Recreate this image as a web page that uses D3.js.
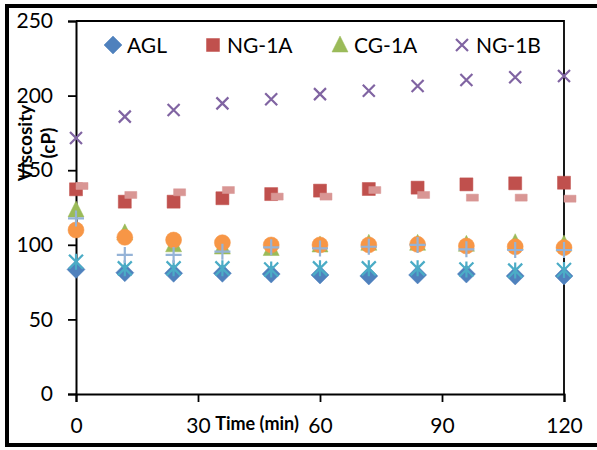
<!DOCTYPE html>
<html>
<head>
<meta charset="utf-8">
<script src="https://cdn.jsdelivr.net/npm/d3@7"></script>
<style>
  body { margin: 0; background: #fff; }
  svg { display: block; font-family: Lato, "Open Sans", sans-serif; }
</style>
</head>
<body>
<svg id="chart" width="597" height="450"></svg>
<script>
// sampling times (min)
const times = [0, 12, 24, 36, 48, 60, 72, 84, 96, 108, 120];

// viscosity (cP)
const agl  = [83.5, 81.3, 80.9, 80.9, 80.4, 79.8, 79.1, 79.8, 80.4, 79.1, 79.1];
const ng1a = [137.2, 128.9, 128.9, 131.2, 134, 136.3, 137.4, 138.3, 140.5, 141.2, 141.6];
const cg1a = [123.3, 108, 100, 98.5, 97.5, 99.9, 101, 101, 100.3, 101.4, 100.5];
const ng1b = [171.6, 185.9, 190.3, 194.8, 197.5, 201, 203.3, 206.4, 210.5, 212.3, 213.1];
// extra series without legend entry
const seriesStar   = [88.7, 84.2, 84.2, 84.2, 83.5, 84.2, 84.2, 84.2, 83.5, 82.7, 83.1];
const seriesCircle = [109.9, 105, 103.2, 101.4, 99.9, 99.9, 99.9, 100.3, 99.2, 98.7, 98.1];
const seriesPlus   = [117.7, 93.2, 93.2, 95.4, 98.3, 97.6, 98.7, 99.9, 97, 96.5, 96.5];
const seriesDash   = [139.4, 133.4, 135.2, 136.7, 132.3, 132.3, 136.7, 133.4, 131.6, 131.6, 130.9];

const xTicks = [0, 30, 60, 90, 120];
const yTicks = [0, 50, 100, 150, 200, 250];
const legendNames = ['AGL', 'NG-1A', 'CG-1A', 'NG-1B'];

// marker shapes (path centred on 0,0)
const shapes = {
  diamond: 'M0,-9L9,0L0,9L-9,0Z',
  square: 'M-6.5,-6.5H6.5V6.5H-6.5Z',
  triangle: 'M0,-9L8,7H-8Z',
  cross: 'M-6,-6L6,6M6,-6L-6,6',
  star: 'M-7,-7L7,7M7,-7L-7,7M0,-8V8',
  circle: 'M8,0A8,8 0 1,1 -8,0A8,8 0 1,1 8,0Z',
  plus: 'M-8,0H8M0,-8V8',
  dash: 'M0,-3.5H12V3.5H0Z'
};

const series = [
  { values: agl, shape: 'diamond', color: '#4F81BD', fill: true },
  { values: ng1a, shape: 'square', color: '#C0504D', fill: true },
  { values: cg1a, shape: 'triangle', color: '#9BBB59', fill: true },
  { values: ng1b, shape: 'cross', color: '#8064A2', fill: false },
  { values: seriesStar, shape: 'star', color: '#4BACC6', fill: false },
  { values: seriesCircle, shape: 'circle', color: '#F79646', fill: true },
  { values: seriesPlus, shape: 'plus', color: '#95B3D7', fill: false },
  { values: seriesDash, shape: 'dash', color: '#D99694', fill: true }
];

const svg = d3.select('#chart');
const plot = { left: 76, right: 564, top: 21, bottom: 394 };

const x = d3.scaleLinear().domain([0, 120]).range([plot.left, plot.right]);
const y = d3.scaleLinear().domain([0, 250]).range([plot.bottom, plot.top]);

// outer frame
svg.append('rect')
  .attr('x', 7).attr('y', 6).attr('width', 640).attr('height', 439)
  .attr('fill', 'none').attr('stroke', '#000').attr('stroke-width', 4);

// plot box (top and right)
svg.append('path')
  .attr('d', `M${plot.left},${plot.top}H${plot.right}V${plot.bottom}`)
  .attr('fill', 'none').attr('stroke', '#000').attr('stroke-width', 1.8);

// y axis
const yAxis = svg.append('g')
  .attr('transform', `translate(${plot.left},0)`)
  .call(d3.axisLeft(y).tickValues(yTicks).tickSize(8).tickPadding(15));
yAxis.select('.domain').attr('stroke-width', 2);
yAxis.selectAll('.tick line').attr('stroke-width', 1.8);
yAxis.selectAll('.tick text').attr('font-size', 21).attr('fill', '#000')
  .attr('font-family', 'Lato, sans-serif');

// x axis
const xAxis = svg.append('g')
  .attr('transform', `translate(0,${plot.bottom})`)
  .call(d3.axisBottom(x).tickValues(xTicks).tickSize(8).tickPadding(16));
xAxis.select('.domain').attr('stroke-width', 2);
xAxis.selectAll('.tick line').attr('stroke-width', 1.8);
xAxis.selectAll('.tick text').attr('font-size', 21).attr('fill', '#000')
  .attr('font-family', 'Lato, sans-serif');

// axis titles
svg.append('text')
  .attr('x', 257).attr('y', 430)
  .attr('text-anchor', 'middle')
  .attr('font-size', 18).attr('font-weight', 'bold')
  .text('Time (min)');

const yTitle = svg.append('text')
  .attr('transform', 'translate(32,143) rotate(-90)')
  .attr('text-anchor', 'middle')
  .attr('font-size', 19).attr('font-weight', 'bold');
yTitle.append('tspan').attr('x', 0).attr('dy', 0).text('Viscosity');
yTitle.append('tspan').attr('x', 0).attr('dy', 23).text('(cP)');

// markers
series.forEach(s => {
  svg.append('g')
    .selectAll('path')
    .data(s.values.map((v, i) => [times[i], v]))
    .join('path')
    .attr('transform', d => `translate(${x(d[0])},${y(d[1])})`)
    .attr('d', shapes[s.shape])
    .attr('fill', s.fill ? s.color : 'none')
    .attr('stroke', s.color)
    .attr('stroke-width', s.fill ? 0.5 : 2.2);
});

// legend
const legendX = [113, 213, 340, 462];
const legend = svg.append('g');
series.slice(0, 4).forEach((s, i) => {
  const g = legend.append('g').attr('transform', `translate(${legendX[i]},45)`);
  g.append('path')
    .attr('d', shapes[s.shape])
    .attr('fill', s.fill ? s.color : 'none')
    .attr('stroke', s.color)
    .attr('stroke-width', s.fill ? 0.5 : 2.2);
  g.append('text')
    .attr('x', 14).attr('y', 7.5)
    .attr('font-size', 21)
    .text(legendNames[i]);
});
</script>
</body>
</html>
